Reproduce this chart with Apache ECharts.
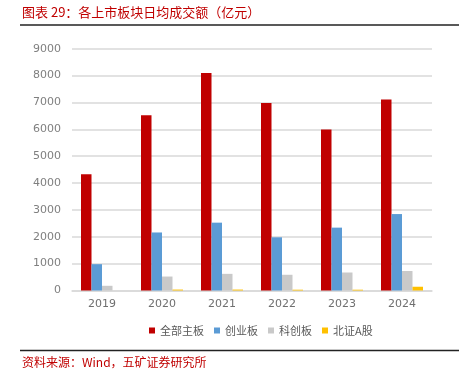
<!DOCTYPE html>
<html><head><meta charset="utf-8">
<script src="https://cdn.jsdelivr.net/npm/echarts@6/dist/echarts.min.js"></script>
<style>html,body{margin:0;padding:0;background:#fff}#c{width:459px;height:385px}</style>
</head><body><div id="c"></div>
<script>
const categories = ['2019','2020','2021','2022','2023','2024'];
const mainBoard = [4330, 6520, 8100, 6980, 5990, 7110];
const chinext = [980, 2160, 2525, 1980, 2340, 2845];
const star = [175, 520, 620, 585, 670, 725];
const bse = [0, 35, 35, 30, 30, 140];
const seriesNames = ['全部主板','创业板','科创板','北证A股'];
const colors = ['#C00000','#5B9BD5','#C9C9C9','#FFC000'];
const yTicks = [0, 9000, 1000];

const chart = echarts.init(document.getElementById('c'), null, {renderer:'canvas'});
const font = 'Noto Sans CJK SC, sans-serif';
const dataArr = [mainBoard, chinext, star, bse];
chart.setOption({
  animation:false,
  color: colors,
  grid:{left:72, right:27, top:48.7, bottom:94.5, containLabel:false},
  legend:{
    data: seriesNames, left:144, top:320, icon:'rect', itemWidth:6, itemHeight:6, itemGap:10,
    textStyle:{color:'#595959', fontSize:11, fontFamily:font}
  },
  xAxis:{
    type:'category', data:categories,
    axisLine:{lineStyle:{color:'#d9d9d9', width:1.5}},
    axisTick:{show:false},
    axisLabel:{color:'#6f6f6f', fontSize:11, margin:8, fontFamily:'DejaVu Sans, sans-serif'}
  },
  yAxis:{
    type:'value', min:yTicks[0], max:yTicks[1], interval:yTicks[2],
    axisLine:{show:false}, axisTick:{show:false},
    splitLine:{lineStyle:{color:'#d9d9d9', width:1.5}},
    axisLabel:{color:'#7f7f7f', fontSize:11, margin:11, fontFamily:'DejaVu Sans, sans-serif', formatter:(v)=>String(v)}
  },
  series: seriesNames.map((n,i)=>({
    name:n, type:'bar', data:dataArr[i], barGap:'0%', barCategoryGap:'30%',
    itemStyle:{color:colors[i]}
  })),
  graphic:[
    {type:'text', left:22, top:6, style:{text:'图表 29：各上市板块日均成交额（亿元）', fill:'#C00000', font:'13px '+font}},
    {type:'line', shape:{x1:20,y1:25,x2:459,y2:25}, style:{stroke:'#222', lineWidth:1.5}},
    {type:'line', shape:{x1:20,y1:350.5,x2:459,y2:350.5}, style:{stroke:'#222', lineWidth:1.5}},
    {type:'text', left:22, top:356, style:{text:'资料来源：Wind，五矿证券研究所', fill:'#C00000', font:'12px '+font}}
  ]
});
</script></body></html>
